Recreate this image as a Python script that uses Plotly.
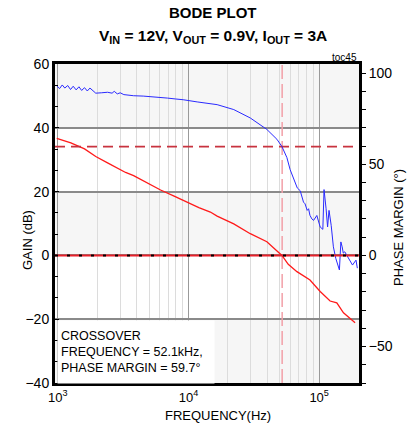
import plotly.graph_objects as go

# ---- data ----
gain_freq = [980, 1257, 1600, 1950, 2400, 2860, 3300, 3800, 4790, 6110, 7760, 9770,
             12000, 14700, 16560, 22200, 29700, 39800, 51900, 58000, 67600, 85100,
             101800, 121300, 136500, 153500, 170000, 188400]
gain_db = [36.7, 35.3, 33.4, 31.0, 29.0, 27.2, 26.0, 25.0, 22.9, 20.5, 18.6, 16.7,
           15.0, 13.6, 12.3, 9.9, 6.8, 4.3, 0.0, -2.8, -5.1, -7.7,
           -11.3, -14.3, -14.9, -18.0, -19.5, -21.1]

phase_freq = [980, 1030, 1080, 1130, 1190, 1250, 1310, 1380, 1450, 1520, 1600, 1680,
              1760, 1850, 1950, 2150, 2400, 2600, 2700, 2850, 3000, 3200, 3500, 3800,
              4500, 5100, 5800, 6900, 8000, 9100, 11650, 14450, 16560, 22200, 29700,
              39800, 47500, 51900, 56600, 60000, 63700, 68000, 71600, 75900, 78000,
              81000, 83000, 85000, 88000, 90600, 96000, 101800, 106700, 109000, 113000,
              116000, 119000, 123600, 128500, 131000, 134000, 142900, 146600, 150000,
              153000, 157000, 172600, 180000, 191400, 196000]
phase_deg = [93.0, 91.5, 93.5, 91.8, 93.2, 91.0, 92.8, 90.8, 92.5, 90.5, 92.0, 90.2,
             91.8, 90.5, 89.0, 89.2, 89.5, 89.0, 90.0, 88.6, 89.2, 88.2, 87.8, 87.6,
             87.4, 87.2, 86.6, 86.3, 85.8, 85.4, 84.2, 83.4, 82.7, 80.0, 75.4,
             69.1, 63.7, 59.7, 53.7, 47.0, 41.9, 37.0, 35.5, 29.2, 28.3,
             24.7, 25.6, 22.0, 20.0, 19.2, 21.9, 15.6, 14.3, 36.1, 25.6,
             15.6, 24.7, 16.5, 4.7, 2.0, -1.6, -8.0, 7.4, 4.7,
             1.25, 2.0, -2.6, -5.3, -2.6, -7.0]

crossover_hz = 52100
phase_margin = 59.7
x_tick_vals = [1000, 10000, 100000]
x_tick_text = ["10<sup>3</sup>", "10<sup>4</sup>", "10<sup>5</sup>"]
x_minor_vals = [m * d for d in (100, 1000, 10000, 100000) for m in range(2, 10)]
gain_ticks = [-40, -20, 0, 20, 40, 60]
phase_ticks = [-50, 0, 50, 100]

FONT = "Liberation Sans, Arial, sans-serif"
X_RANGE = [2.978, 5.305]

W, H = 412, 427
# plot area in page pixels
PL, PR, PT, PB = 55, 359, 64, 383
PW, PH = PR - PL, PB - PT


def px(x):
    return (x - PL) / PW


def py(y):
    return (PB - y) / PH


fig = go.Figure()

# shaded bands (gain axis)
for y0, y1 in [(40, 60), (0, 20), (-40, -20)]:
    fig.add_shape(type="rect", xref="paper", yref="y", x0=0, x1=1, y0=y0, y1=y1,
                  fillcolor="#f6f6f6", line_width=0, layer="below")

# zero line: red with black dashes
fig.add_shape(type="line", xref="paper", yref="y", x0=0, x1=1, y0=0, y1=0,
              line=dict(color="#e8202a", width=2), layer="above")
fig.add_shape(type="line", xref="paper", yref="y", x0=0, x1=1, y0=0, y1=0,
              line=dict(color="black", width=2, dash="3px,9px"), layer="above")

# crossover markers
fig.add_trace(go.Scatter(x=[crossover_hz, crossover_hz], y=[-40, 60], mode="lines",
                         line=dict(color="#f2a0a8", width=1.5, dash="14px,5px"),
                         hoverinfo="skip", showlegend=False))
fig.add_trace(go.Scatter(x=[10 ** X_RANGE[0], 10 ** X_RANGE[1]], y=[phase_margin, phase_margin],
                         yaxis="y2", mode="lines",
                         line=dict(color="#c8333f", width=1.8, dash="10px,6px"),
                         hoverinfo="skip", showlegend=False))

fig.add_trace(go.Scatter(x=gain_freq, y=gain_db, mode="lines",
                         line=dict(color="#ff1a1a", width=1.3), showlegend=False))
fig.add_trace(go.Scatter(x=phase_freq, y=phase_deg, yaxis="y2", mode="lines",
                         line=dict(color="#2a2aff", width=1.0), showlegend=False))

fig.update_layout(
    width=W, height=H,
    margin=dict(l=PL, r=W - PR, t=PT, b=H - PB, autoexpand=False),
    paper_bgcolor="white", plot_bgcolor="white",
    font=dict(family=FONT, size=13, color="black"),
    xaxis=dict(type="log", range=X_RANGE, tickvals=x_tick_vals, ticktext=x_tick_text,
               showgrid=True, gridcolor="#9a9a9a", gridwidth=1.2,
               minor=dict(tickvals=x_minor_vals, showgrid=True, gridcolor="#dcdcdc", gridwidth=1.2),
               showline=True, linecolor="black", linewidth=3, mirror=True,
               ticks="", tickfont=dict(size=13), zeroline=False),
    yaxis=dict(range=[-40, 60], tickvals=gain_ticks, showgrid=True, gridcolor="#8a8a8a",
               gridwidth=1.5, showline=True, linecolor="black", linewidth=3, mirror=True,
               ticks="inside", ticklen=4, tickcolor="black",
               minor=dict(dtick=20 / 3, tick0=0, ticks="inside", ticklen=3, tickcolor="black"),
               zeroline=False, tickfont=dict(size=14)),
    yaxis2=dict(range=[-70, 105], overlaying="y", side="right", tickvals=phase_ticks,
                showgrid=False, ticks="outside", ticklen=4, tickcolor="black",
                minor=dict(dtick=10, tick0=0, ticks="outside", ticklen=4, tickcolor="black"),
                zeroline=False, tickfont=dict(size=14), showline=True, linecolor="black",
                linewidth=3),
)

fig.add_annotation(text="<b>BODE PLOT</b>", xref="paper", yref="paper",
                   x=px(213), y=py(12), showarrow=False, font=dict(size=15),
                   xanchor="center", yanchor="middle")
fig.add_annotation(text="<b>V<sub>IN</sub> = 12V, V<sub>OUT</sub> = 0.9V, I<sub>OUT</sub> = 3A</b>",
                   xref="paper", yref="paper", x=px(213), y=py(36), showarrow=False,
                   font=dict(size=15.5), xanchor="center", yanchor="middle")

fig.add_annotation(text="toc45", xref="paper", yref="paper", x=px(359), y=py(57),
                   showarrow=False, font=dict(size=10), xanchor="right", yanchor="middle")
fig.add_annotation(text="GAIN (dB)", xref="paper", yref="paper", x=px(27),
                   y=py(240), textangle=-90, showarrow=False,
                   font=dict(size=13), xanchor="center", yanchor="middle")
fig.add_annotation(text="PHASE MARGIN (°)", xref="paper", yref="paper", x=px(398),
                   y=py(228), textangle=-90, showarrow=False,
                   font=dict(size=13), xanchor="center", yanchor="middle")
fig.add_annotation(text="FREQUENCY(Hz)", xref="paper", yref="paper", x=px(218),
                   y=py(415), showarrow=False,
                   font=dict(size=13), xanchor="center", yanchor="middle")
fig.add_annotation(text="CROSSOVER<br>FREQUENCY = 52.1kHz,<br>PHASE MARGIN = 59.7°",
                   xref="paper", yref="paper", x=px(57), y=py(320),
                   showarrow=False, align="left", xanchor="left", yanchor="top",
                   font=dict(size=12.5), bgcolor="white", borderpad=3, width=150, height=56)

fig.write_html("out.html", config={"displayModeBar": False},
               post_script="document.body.style.margin='0px';")
